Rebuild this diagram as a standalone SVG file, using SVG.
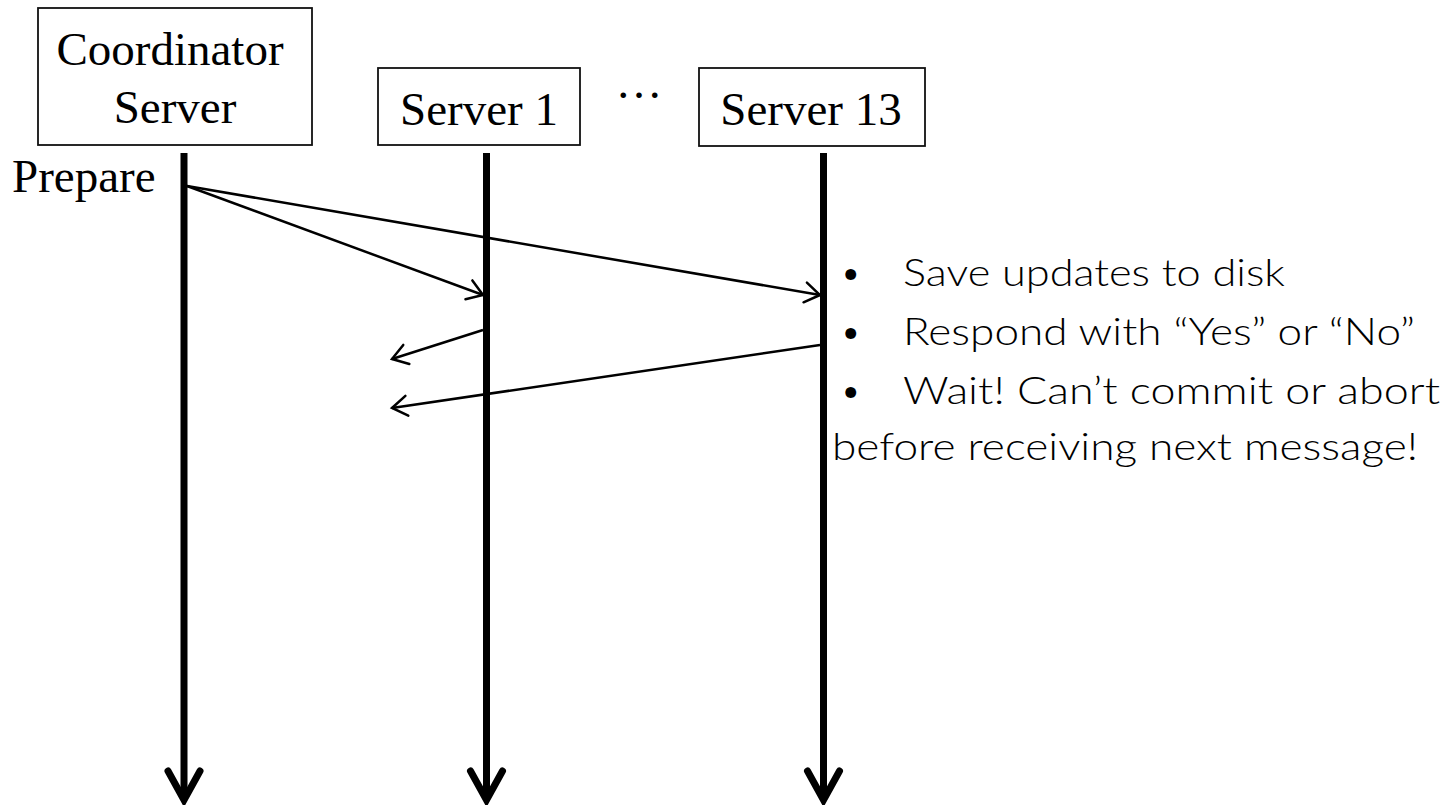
<svg xmlns="http://www.w3.org/2000/svg" width="1451" height="805" viewBox="0 0 1451 805">
  <style>
    .box { fill: #ffffff; stroke: #111111; stroke-width: 1.8; }
    .label { font-family: "Liberation Serif", "Times New Roman", serif; font-size: 47px; fill: #000000; }
    .life { stroke: #000000; stroke-width: 7; fill: none; }
    .head { stroke: #000000; stroke-width: 7; fill: none; stroke-linecap: round; stroke-linejoin: miter; }
    .msg { stroke: #000000; stroke-width: 2.5; fill: none; marker-end: url(#open); }
    .note { font-family: "Lato", "Open Sans", "DejaVu Sans", sans-serif; font-weight: 300; font-size: 37px; fill: #000000; }
  </style>
  <defs>
    <marker id="open" markerUnits="userSpaceOnUse" viewBox="-20 -14 24 28" refX="0" refY="0" markerWidth="24" markerHeight="28" orient="auto" overflow="visible">
      <path d="M-15,-10 L0,0 L-15,10" fill="none" stroke="#000000" stroke-width="2.5" stroke-linecap="round" stroke-linejoin="miter"/>
    </marker>
  </defs>
  <rect width="1451" height="805" fill="#ffffff"/>

  <!-- participants -->
  <g id="coordinator">
    <rect class="box" x="38" y="8" width="274" height="137"/>
    <text class="label" x="170" y="65" text-anchor="middle">Coordinator</text>
    <text class="label" x="175" y="123" text-anchor="middle">Server</text>
  </g>
  <g id="server1">
    <rect class="box" x="378" y="68" width="202" height="77"/>
    <text class="label" x="479" y="125" text-anchor="middle">Server 1</text>
  </g>
  <g id="ellipsis">
    <text class="label" x="639" y="98" text-anchor="middle" font-size="38">…</text>
  </g>
  <g id="server13">
    <rect class="box" x="699" y="68" width="226" height="78"/>
    <text class="label" x="811" y="125" text-anchor="middle">Server 13</text>
  </g>

  <!-- lifelines with downward arrowheads -->
  <g id="lifelines">
    <line class="life" x1="184" y1="153" x2="184" y2="798"/>
    <polyline class="head" points="168,771 184,800 200,771"/>
    <line class="life" x1="486.5" y1="153" x2="486.5" y2="798"/>
    <polyline class="head" points="470.5,771 486.5,800 502.5,771"/>
    <line class="life" x1="823.5" y1="153" x2="823.5" y2="798"/>
    <polyline class="head" points="807.5,771 823.5,800 839.5,771"/>
  </g>

  <g id="prepare-label">
    <text class="label" x="12" y="192" font-size="45">Prepare</text>
  </g>

  <!-- messages -->
  <g id="connectors">
    <line class="msg" x1="187" y1="186" x2="483" y2="295"/>
    <line class="msg" x1="187" y1="186" x2="820" y2="295"/>
    <line class="msg" x1="483" y1="330" x2="392" y2="359"/>
    <line class="msg" x1="820" y1="345" x2="392" y2="408"/>
  </g>

  <!-- participant notes -->
  <g id="notes">
    <text class="note" x="840" y="286">•</text>
    <text class="note" x="903" y="286" textLength="382" lengthAdjust="spacingAndGlyphs">Save updates to disk</text>
    <text class="note" x="840" y="345">•</text>
    <text class="note" x="903" y="345" textLength="512" lengthAdjust="spacingAndGlyphs">Respond with “Yes” or “No”</text>
    <text class="note" x="840" y="404">•</text>
    <text class="note" x="903" y="404" textLength="537" lengthAdjust="spacingAndGlyphs">Wait! Can’t commit or abort</text>
    <text class="note" x="832" y="460" textLength="586" lengthAdjust="spacingAndGlyphs">before receiving next message!</text>
  </g>
</svg>
